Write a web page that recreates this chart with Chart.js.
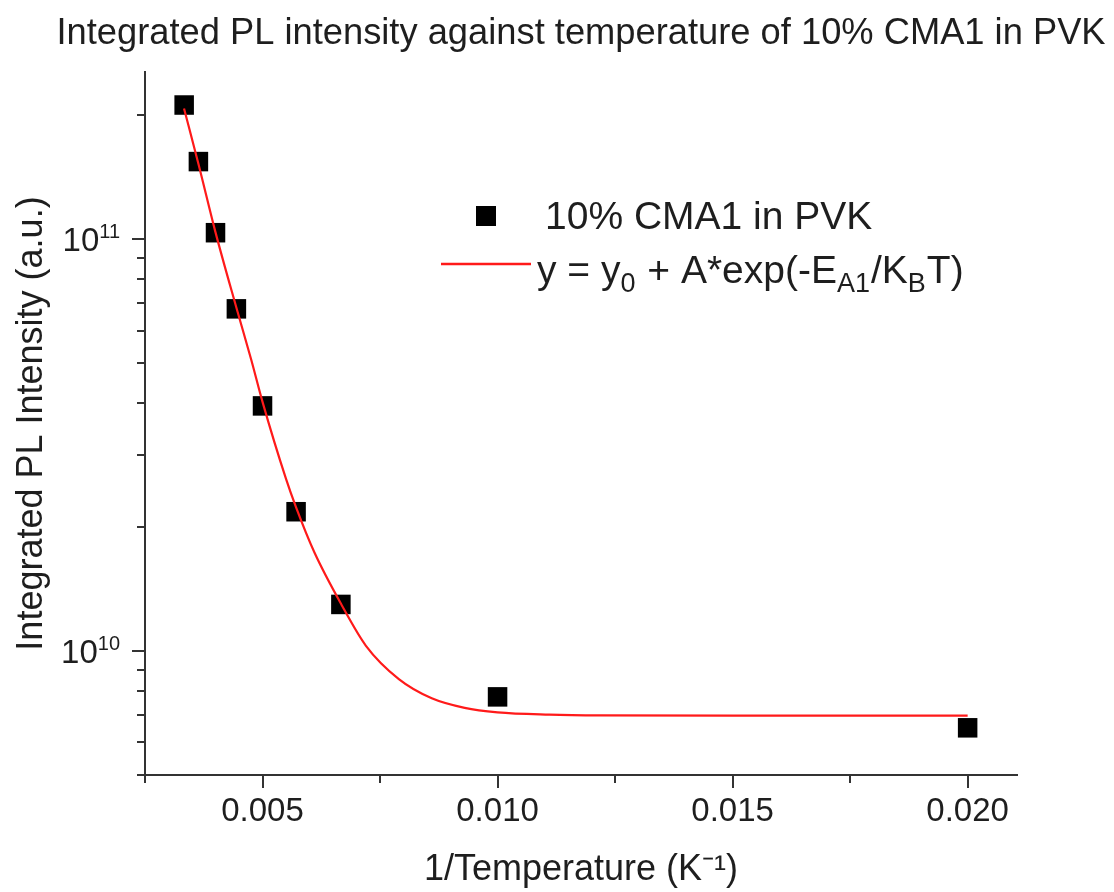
<!DOCTYPE html>
<html>
<head>
<meta charset="utf-8">
<script src="https://cdn.jsdelivr.net/npm/chart.js@4.4.1/dist/chart.umd.min.js"></script>
<style>
  html, body { margin: 0; padding: 0; background: #ffffff; }
  #wrap { width: 1114px; height: 892px; position: relative; }
</style>
</head>
<body>
<div id="wrap"><canvas id="c" width="1114" height="892"></canvas></div>
<script>
// ---------- data ----------
const invTemperature = [0.003333, 0.003636, 0.004000, 0.004444, 0.005000, 0.005714, 0.006667, 0.010000, 0.020000];
const plIntensity    = [2.12e11, 1.545e11, 1.038e11, 6.78e10, 3.94e10, 2.18e10, 1.298e10, 7.74e9, 6.51e9];

const fitInvT      = [0.00333, 0.00364, 0.00400, 0.00444, 0.00476, 0.00500, 0.00550, 0.00571, 0.00610, 0.00668, 0.00720, 0.00790, 0.00860, 0.00930, 0.01000, 0.01110, 0.01220, 0.01500, 0.02000];
const fitIntensity = [2.08e11, 1.52e11, 1.04e11, 6.85e10, 5.10e10, 4.03e10, 2.62e10, 2.24e10, 1.74e10, 1.296e10, 1.03e10, 8.55e9, 7.68e9, 7.28e9, 7.10e9, 7.01e9, 6.98e9, 6.97e9, 6.97e9];

const xMajorTicks = [0.005, 0.010, 0.015, 0.020];
const xTickLabels = ['0.005', '0.010', '0.015', '0.020'];
const xMinorTicks = [0.0025, 0.0075, 0.0125, 0.0175];

const yMajorTicks = [1e10, 1e11];
const yTickBase   = ['10', '10'];
const yTickExp    = ['10', '11'];
const yMinorTicks = [5e9, 6e9, 7e9, 8e9, 9e9, 2e10, 3e10, 4e10, 5e10, 6e10, 7e10, 8e10, 9e10, 2e11];

const chartTitle  = 'Integrated PL intensity against temperature of 10% CMA1 in PVK';
const yAxisTitle  = 'Integrated PL Intensity (a.u.)';
const xAxisTitle  = '1/Temperature (K⁻¹)';
const seriesLabel = '10% CMA1 in PVK';
const fitLabelParts = [['y = y', 0], ['0', 1], [' + A*exp(-E', 0], ['A1', 1], ['/K', 0], ['B', 1], ['T)', 0]];

// ---------- styling ----------
const FONT = '"Liberation Sans", Arial, Helvetica, sans-serif';
const TEXT = '#1e1e1e';
const AXIS = '#333333';

const decorPlugin = {
  id: 'decor',
  afterDraw(chart) {
    const ctx = chart.ctx;
    const xs = chart.scales.x, ys = chart.scales.y;
    const area = chart.chartArea;
    ctx.save();

    // chart title, centred over the plot area
    ctx.fillStyle = TEXT;
    ctx.textAlign = 'center';
    ctx.textBaseline = 'alphabetic';
    ctx.font = '36.3px ' + FONT;
    ctx.fillText(chartTitle, (area.left + area.right) / 2, 44);

    ctx.strokeStyle = AXIS;
    ctx.lineWidth = 2;
    // x ticks (outward, below)
    const xt = (v, len) => {
      const p = Math.round(xs.getPixelForValue(v));
      ctx.beginPath(); ctx.moveTo(p, area.bottom); ctx.lineTo(p, area.bottom + len); ctx.stroke();
    };
    xMajorTicks.forEach(v => xt(v, 13));
    xMinorTicks.forEach(v => xt(v, 8));
    // y ticks (outward, left)
    const yt = (v, len) => {
      const p = Math.round(ys.getPixelForValue(v));
      ctx.beginPath(); ctx.moveTo(area.left, p); ctx.lineTo(area.left - len, p); ctx.stroke();
    };
    yMajorTicks.forEach(v => yt(v, 13));
    yMinorTicks.forEach(v => yt(v, 8));

    // y tick labels with superscript exponent
    ctx.fillStyle = TEXT;
    ctx.textAlign = 'left';
    yMajorTicks.forEach((v, i) => {
      const p = ys.getPixelForValue(v);
      ctx.font = '20px ' + FONT;
      const we = ctx.measureText(yTickExp[i]).width;
      ctx.font = '33px ' + FONT;
      const wb = ctx.measureText(yTickBase[i]).width;
      const right = area.left - 25;
      const xe = right - we;
      const xb = xe - wb;
      ctx.fillText(yTickBase[i], xb, p + 12);
      ctx.font = '20px ' + FONT;
      ctx.fillText(yTickExp[i], xe, p - 1);
    });

    // legend
    const lf = 39;
    ctx.fillStyle = '#000000';
    ctx.fillRect(476, 206, 20, 20);
    ctx.fillStyle = TEXT;
    ctx.font = lf + 'px ' + FONT;
    ctx.fillText(seriesLabel, 545, 229);

    ctx.strokeStyle = '#ff1a1a';
    ctx.lineWidth = 2.5;
    ctx.beginPath(); ctx.moveTo(441, 264); ctx.lineTo(531, 264); ctx.stroke();
    let x = 537;
    const base = 283;
    fitLabelParts.forEach(([t, sub]) => {
      ctx.font = (sub ? Math.round(lf * 0.7) : lf) + 'px ' + FONT;
      ctx.fillText(t, x, sub ? base + 9 : base);
      x += ctx.measureText(t).width + (sub ? 1 : 0);
    });
    ctx.restore();
  }
};

new Chart(document.getElementById('c'), {
  type: 'scatter',
  data: {
    datasets: [
      {
        label: 'fit',
        data: fitInvT.map((v, i) => ({ x: v, y: fitIntensity[i] })),
        showLine: true,
        borderColor: '#ff1a1a',
        borderWidth: 2.2,
        pointRadius: 0,
        pointHoverRadius: 0,
        cubicInterpolationMode: 'monotone',
        fill: false,
        order: 0
      },
      {
        label: seriesLabel,
        data: invTemperature.map((v, i) => ({ x: v, y: plIntensity[i] })),
        pointStyle: 'rect',
        pointRadius: 13.8,
        pointBackgroundColor: '#000000',
        pointBorderWidth: 0,
        order: 1
      }
    ]
  },
  options: {
    responsive: false,
    devicePixelRatio: 1,
    animation: false,
    layout: { padding: { left: 0, right: 97, top: 72, bottom: 0 } },
    plugins: {
      legend: { display: false },
      tooltip: { enabled: false },
      title: { display: false }
    },
    scales: {
      x: {
        type: 'linear',
        min: 0.0025,
        max: 0.02105,
        grid: { display: false, drawTicks: false },
        border: { display: true, color: AXIS, width: 2 },
        afterBuildTicks: (s) => { s.ticks = xMajorTicks.map(v => ({ value: v })); },
        afterFit: (s) => { s.height = 117; },
        ticks: {
          color: TEXT,
          font: { family: FONT, size: 33 },
          padding: 17,
          maxRotation: 0,
          callback: (v, i) => xTickLabels[i]
        },
        title: {
          display: true,
          text: xAxisTitle,
          color: TEXT,
          font: { family: FONT, size: 36 },
          padding: { top: 0, bottom: 0 }
        }
      },
      y: {
        type: 'logarithmic',
        min: 5e9,
        max: 2.55e11,
        grid: { display: false, drawTicks: false },
        border: { display: true, color: AXIS, width: 2 },
        afterFit: (s) => { s.width = 145; },
        ticks: { display: false },
        title: {
          display: true,
          text: yAxisTitle,
          color: TEXT,
          font: { family: FONT, size: 36 },
          padding: { top: 10, bottom: 0 }
        }
      }
    }
  },
  plugins: [decorPlugin]
});
</script>
</body>
</html>
